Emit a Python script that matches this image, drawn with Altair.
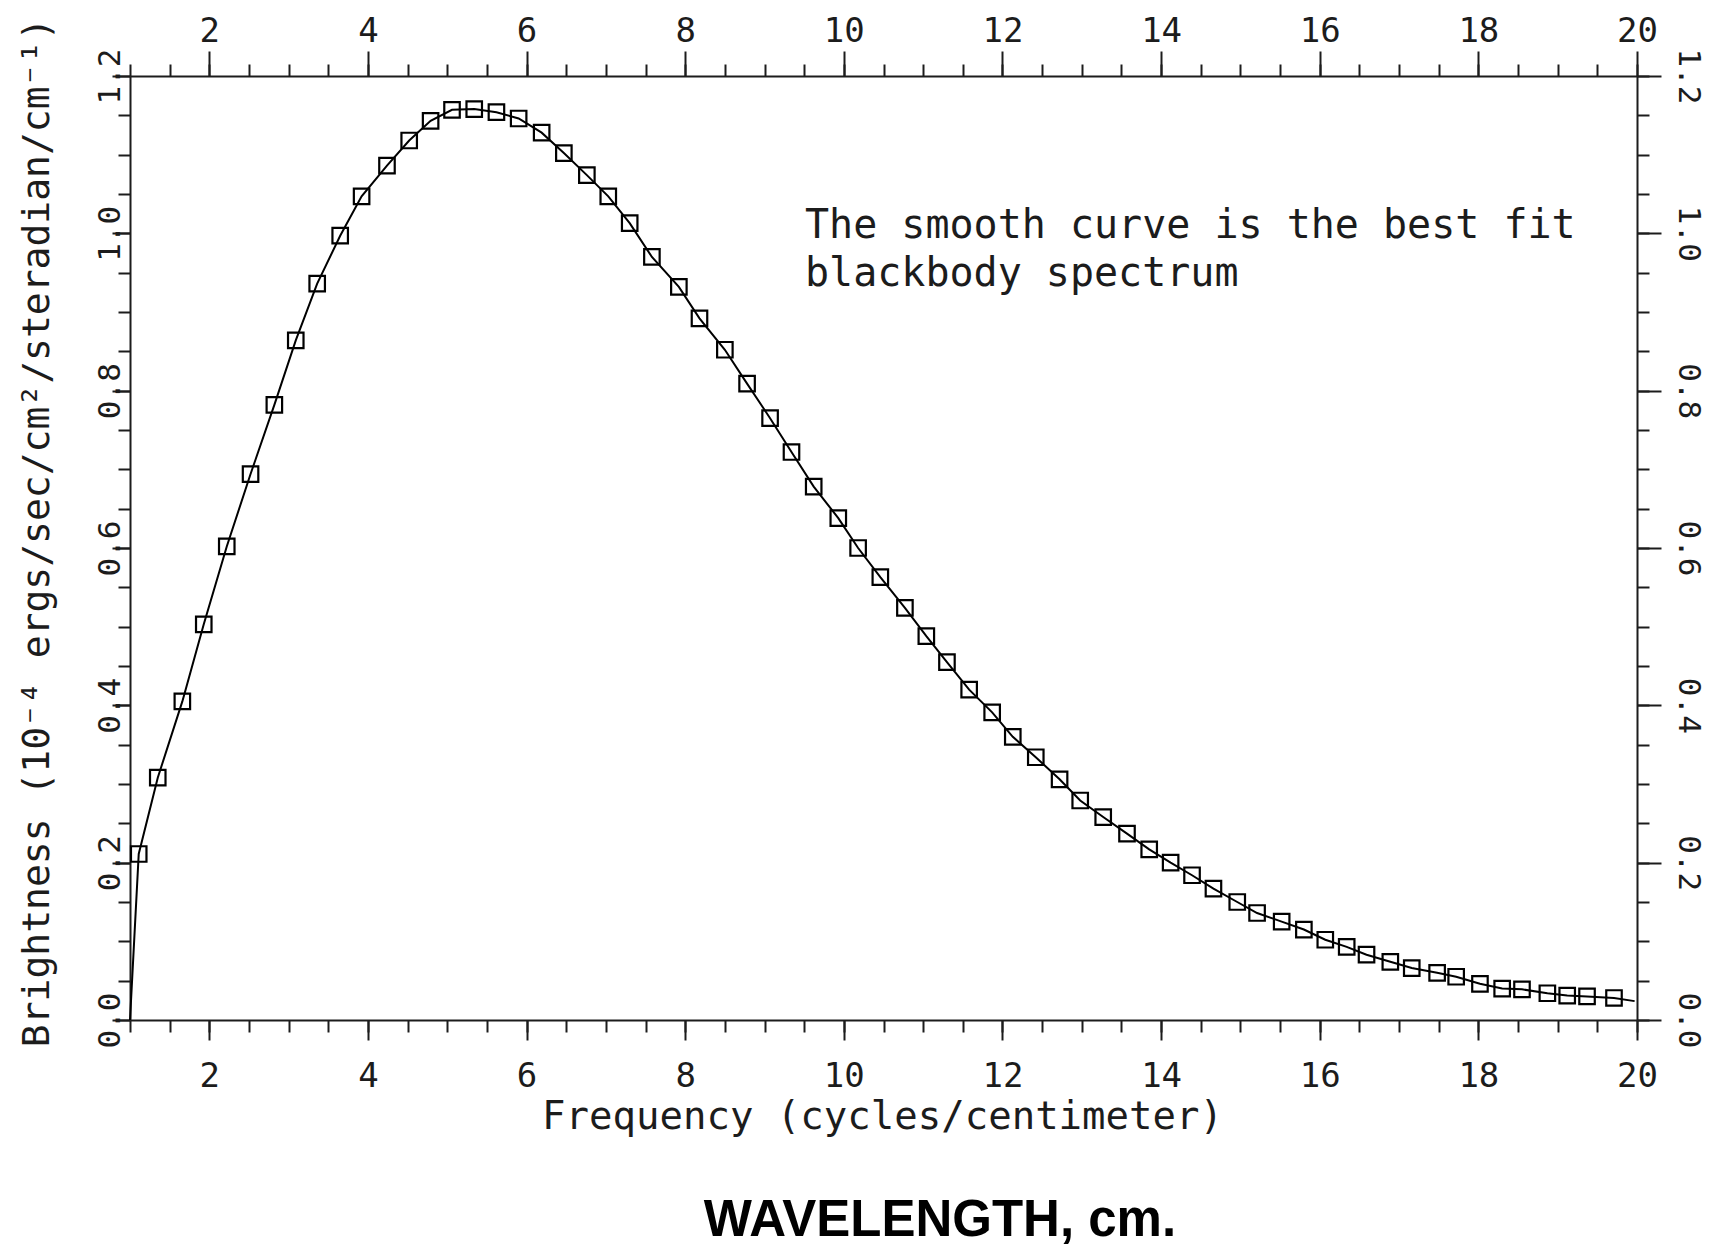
import altair as alt
import pandas as pd

# Measured spectrum (frequency in cycles/cm, brightness in 1e-4 units)
freq = [1.11, 1.35, 1.66, 1.93, 2.22, 2.52, 2.82, 3.09, 3.36, 3.65,
        3.92, 4.24, 4.52, 4.79, 5.06, 5.34, 5.62, 5.90, 6.19, 6.47,
        6.76, 7.03, 7.30, 7.58, 7.92, 8.18, 8.50, 8.78, 9.07, 9.34,
        9.62, 9.93, 10.18, 10.46, 10.77, 11.04, 11.30, 11.58, 11.87, 12.13,
        12.42, 12.72, 12.98, 13.27, 13.57, 13.85, 14.12, 14.39, 14.66, 14.96,
        15.21, 15.52, 15.80, 16.07, 16.34, 16.59, 16.89, 17.16, 17.48, 17.72,
        18.02, 18.30, 18.55, 18.87, 19.12, 19.37, 19.71]
bright = [0.211, 0.308, 0.405, 0.503, 0.602, 0.694, 0.782, 0.864, 0.936, 0.997,
          1.047, 1.086, 1.118, 1.143, 1.157, 1.158, 1.154, 1.146, 1.128, 1.102,
          1.074, 1.047, 1.013, 0.970, 0.932, 0.892, 0.852, 0.809, 0.765, 0.722,
          0.678, 0.638, 0.600, 0.563, 0.524, 0.488, 0.455, 0.420, 0.391, 0.360,
          0.334, 0.306, 0.279, 0.258, 0.237, 0.217, 0.200, 0.184, 0.167, 0.150,
          0.136, 0.125, 0.115, 0.102, 0.093, 0.083, 0.074, 0.066, 0.060, 0.055,
          0.046, 0.040, 0.039, 0.034, 0.031, 0.030, 0.028]

# Best-fit curve (runs through the points, from the axis corner to the end)
fit_freq = [1.0] + freq + [19.97]
fit_bright = [0.0] + bright + [0.024]

# Tick values
x_major = [2, 4, 6, 8, 10, 12, 14, 16, 18, 20]
x_minor = [1 + 0.5 * i for i in range(39)]
y_major = [0.0, 0.2, 0.4, 0.6, 0.8, 1.0, 1.2]
y_minor = [round(0.05 * i, 2) for i in range(25)]

x_title = "Frequency (cycles/centimeter)"
y_title = "Brightness (10\u207b\u2074 ergs/sec/cm\u00b2/steradian/cm\u207b\u00b9)"
note_lines = ["The smooth curve is the best fit", "blackbody spectrum"]
bottom_text = "WAVELENGTH, cm."

MONO = "DejaVu Sans Mono"
INK = "#1c1c1c"

pts = pd.DataFrame({"f": freq, "b": bright})
fit = pd.DataFrame({"f": fit_freq, "b": fit_bright})

xs = alt.Scale(domain=[1, 20], nice=False, zero=False)
ys = alt.Scale(domain=[0, 1.2], nice=False, zero=False)

common = dict(grid=False, labelFont=MONO, labelColor=INK, tickColor=INK,
              domainColor=INK, tickWidth=2, domainWidth=2,
              labelFlush=False, labelOverlap=False)

ax_bottom = alt.Axis(orient="bottom", values=x_major, tickSize=20, format="d",
                     labelFontSize=34, labelBaseline="middle", labelPadding=36,
                     title=x_title, titleFont=MONO, titleFontSize=39,
                     titleFontWeight="normal", titleColor=INK,
                     titleX=752, titleY=96, titleAlign="center",
                     titleBaseline="middle", **common)
ax_left = alt.Axis(orient="left", values=y_major, tickSize=18, format=".1f",
                   labelFontSize=31, labelAngle=-90, labelAlign="center",
                   labelBaseline="middle", labelPadding=2,
                   title=y_title, titleFont=MONO, titleFontSize=38,
                   titleFontWeight="normal", titleColor=INK, titleAngle=-90,
                   titleX=-93, titleY=456, titleAlign="center",
                   titleBaseline="middle", **common)
ax_top = alt.Axis(orient="top", values=x_major, tickSize=25, format="d",
                  labelFontSize=34, labelBaseline="middle", labelPadding=20,
                  title=None, **common)
ax_right = alt.Axis(orient="right", values=y_major, tickSize=24, format=".1f",
                    labelFontSize=31, labelAngle=90, labelAlign="center",
                    labelBaseline="middle", labelPadding=26,
                    title=None, **common)

minor = dict(grid=False, labels=False, domain=False, tickColor=INK,
             tickWidth=2, tickSize=12, title=None)
ax_bottom_min = alt.Axis(orient="bottom", values=x_minor, **minor)
ax_top_min = alt.Axis(orient="top", values=x_minor, **minor)
ax_left_min = alt.Axis(orient="left", values=y_minor, **minor)
ax_right_min = alt.Axis(orient="right", values=y_minor, **minor)

line = alt.Chart(fit).mark_line(color="black", strokeWidth=2).encode(
    x=alt.X("f:Q", scale=xs, axis=ax_bottom),
    y=alt.Y("b:Q", scale=ys, axis=ax_left),
)
points = alt.Chart(pts).mark_point(shape="square", filled=False, size=240,
                                   color="black", strokeWidth=2.2,
                                   opacity=1).encode(
    x=alt.X("f:Q", scale=xs, axis=ax_top),
    y=alt.Y("b:Q", scale=ys, axis=ax_right),
)
minor1 = alt.Chart(pts).mark_point(opacity=0).encode(
    x=alt.X("f:Q", scale=xs, axis=ax_bottom_min),
    y=alt.Y("b:Q", scale=ys, axis=ax_left_min),
)
minor2 = alt.Chart(pts).mark_point(opacity=0).encode(
    x=alt.X("f:Q", scale=xs, axis=ax_top_min),
    y=alt.Y("b:Q", scale=ys, axis=ax_right_min),
)

one = pd.DataFrame({"k": [0]})
note = alt.Chart(one).mark_text(text=note_lines, font=MONO, fontSize=40,
                                color=INK, align="left", baseline="alphabetic",
                                lineHeight=48).encode(
    x=alt.value(675), y=alt.value(162))
wave = alt.Chart(one).mark_text(text=bottom_text, font="Liberation Sans",
                                fontWeight="bold", fontSize=51, color="black",
                                align="center", baseline="alphabetic").encode(
    x=alt.value(810), y=alt.value(1160))

chart = alt.layer(line, points, minor1, minor2, note, wave).resolve_axis(
    x="independent", y="independent"
).properties(
    width=1507, height=944,
    autosize=alt.AutoSizeParams(type="none"),
    padding={"left": 130, "top": 76, "right": 74, "bottom": 226},
    background="white",
).configure_view(stroke=None)

chart.save("out.html", embed_options={"renderer": "svg", "actions": False})
